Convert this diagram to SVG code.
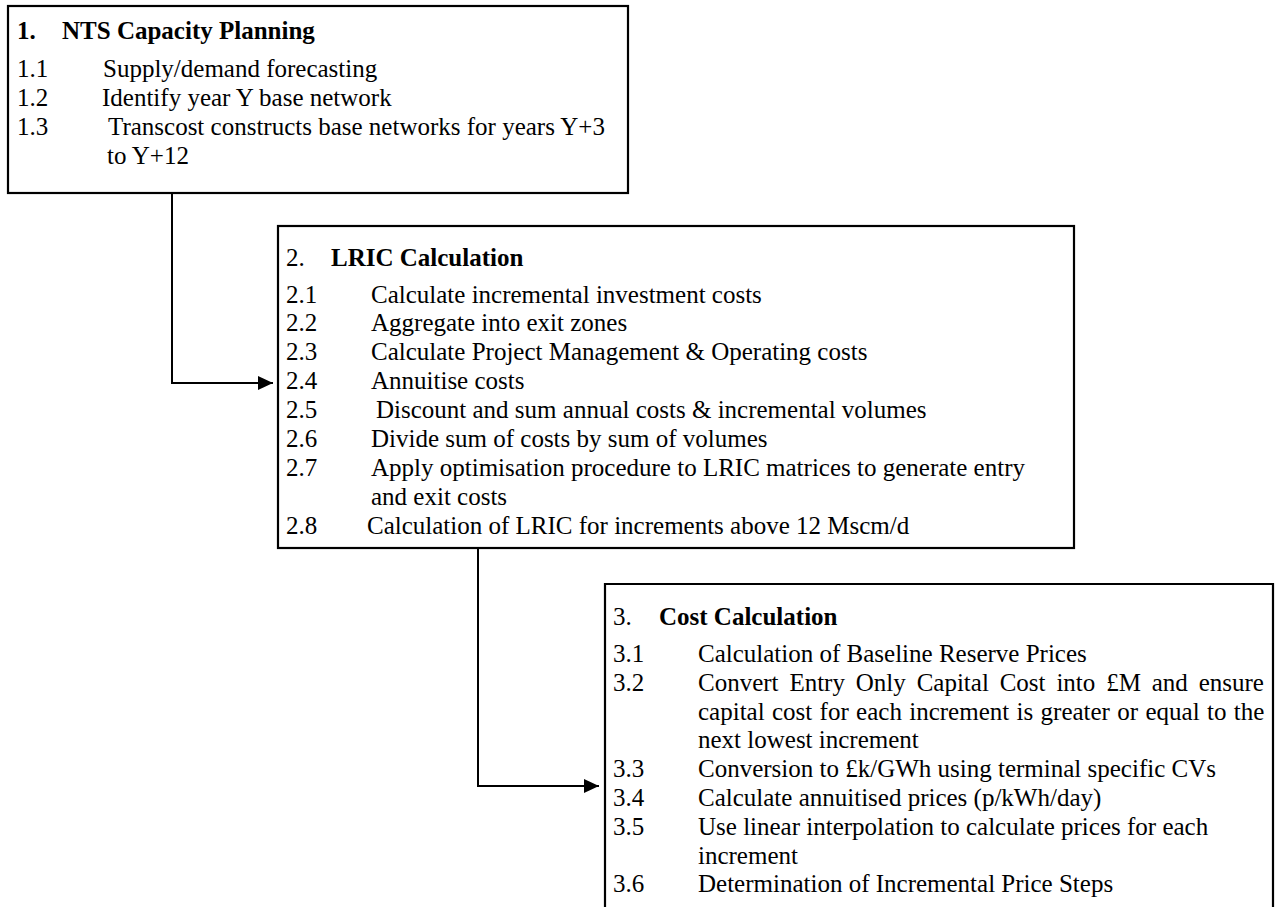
<svg xmlns="http://www.w3.org/2000/svg" width="1280" height="907" viewBox="0 0 1280 907">
<defs>
<marker id="arr" markerWidth="15" markerHeight="14" refX="15" refY="7" orient="auto" markerUnits="userSpaceOnUse">
<path d="M0,0 L15,7 L0,14 z" fill="#000"/>
</marker>
<style>
.box{fill:#fff;stroke:#000;stroke-width:2.2}
.t{font-family:"Liberation Serif","Times New Roman",serif;font-size:25px;fill:#000}
.b{font-weight:bold}
.c{fill:none;stroke:#000;stroke-width:2}
</style>
</defs>
<rect width="1280" height="907" fill="#fff"/>
<g id="connectors">
<path class="c" d="M172,193 V383 H273" marker-end="url(#arr)"/>
<path class="c" d="M478,548 V786 H599" marker-end="url(#arr)"/>
</g>
<g id="node1">
<rect class="box" x="8" y="6" width="620" height="187"/>
<text class="t b" x="17" y="39">1.</text>
<text class="t b" x="62" y="39">NTS Capacity Planning</text>
<text class="t" x="17" y="77">1.1</text><text class="t" x="103" y="77">Supply/demand forecasting</text>
<text class="t" x="17" y="106">1.2</text><text class="t" x="102" y="106">Identify year Y base network</text>
<text class="t" x="17" y="135">1.3</text><text class="t" x="108" y="135">Transcost constructs base networks for years Y+3</text>
<text class="t" x="107" y="164">to Y+12</text>
</g>
<g id="node2">
<rect class="box" x="278" y="226" width="796" height="322"/>
<text class="t" x="286" y="266">2.</text>
<text class="t b" x="331" y="266">LRIC Calculation</text>
<text class="t" x="286" y="303">2.1</text><text class="t" x="371" y="303">Calculate incremental investment costs</text>
<text class="t" x="286" y="331">2.2</text><text class="t" x="371" y="331">Aggregate into exit zones</text>
<text class="t" x="286" y="360">2.3</text><text class="t" x="371" y="360">Calculate Project Management &amp; Operating costs</text>
<text class="t" x="286" y="389">2.4</text><text class="t" x="371" y="389">Annuitise costs</text>
<text class="t" x="286" y="418">2.5</text><text class="t" x="376" y="418">Discount and sum annual costs &amp; incremental volumes</text>
<text class="t" x="286" y="447">2.6</text><text class="t" x="371" y="447">Divide sum of costs by sum of volumes</text>
<text class="t" x="286" y="476">2.7</text><text class="t" x="371" y="476">Apply optimisation procedure to LRIC matrices to generate entry</text>
<text class="t" x="371" y="505">and exit costs</text>
<text class="t" x="286" y="534">2.8</text><text class="t" x="367" y="534">Calculation of LRIC for increments above 12 Mscm/d</text>
</g>
<g id="node3">
<path class="box" d="M605,910 V584 H1273 V910"/>
<text class="t" x="613" y="625">3.</text>
<text class="t b" x="659" y="625">Cost Calculation</text>
<text class="t" x="613" y="662">3.1</text><text class="t" x="698" y="662">Calculation of Baseline Reserve Prices</text>
<text class="t" x="613" y="691">3.2</text><text class="t" x="698" y="691" word-spacing="4.6">Convert Entry Only Capital Cost into £M and ensure</text>
<text class="t" x="698" y="720" word-spacing="1.1">capital cost for each increment is greater or equal to the</text>
<text class="t" x="698" y="748">next lowest increment</text>
<text class="t" x="613" y="777">3.3</text><text class="t" x="698" y="777">Conversion to £k/GWh using terminal specific CVs</text>
<text class="t" x="613" y="806">3.4</text><text class="t" x="698" y="806">Calculate annuitised prices (p/kWh/day)</text>
<text class="t" x="613" y="835">3.5</text><text class="t" x="698" y="835">Use linear interpolation to calculate prices for each</text>
<text class="t" x="698" y="864">increment</text>
<text class="t" x="613" y="892">3.6</text><text class="t" x="698" y="892">Determination of Incremental Price Steps</text>
</g>
</svg>
